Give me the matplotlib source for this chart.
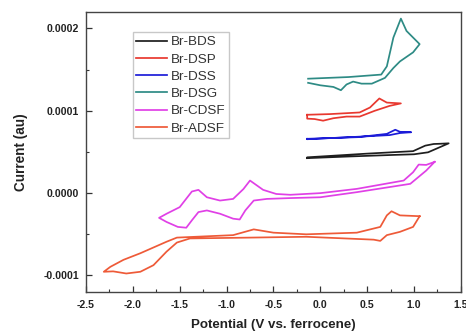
import matplotlib
matplotlib.use("Agg")
import matplotlib.pyplot as plt
from matplotlib.ticker import MultipleLocator, FormatStrFormatter

plt.rcParams['font.family'] = ['Liberation Sans', 'DejaVu Sans']

# ---- data (potential V vs Fc, current in units of 1e-4 au) ----
bds_v = [-0.14, 0.30, 0.80, 1.00, 1.15, 1.37, 1.28, 1.21, 1.12, 0.99, 0.50, -0.14, -0.14]
bds_i = [0.425, 0.445, 0.465, 0.472, 0.496, 0.605, 0.60, 0.597, 0.577, 0.51, 0.48, 0.435, 0.425]

dsp_v = [-0.14, 0.10, 0.42, 0.53, 0.63, 0.71, 0.86, 0.74, 0.58, 0.42, 0.28, 0.14, 0.03, -0.06, -0.14, -0.14]
dsp_i = [0.952, 0.96, 0.98, 1.04, 1.15, 1.10, 1.09, 1.06, 1.00, 0.93, 0.93, 0.91, 0.88, 0.90, 0.905, 0.952]

dss_v = [-0.14, 0.40, 0.71, 0.80, 0.85, 0.97, 0.85, 0.74, 0.49, -0.14, -0.14]
dss_i = [0.66, 0.68, 0.72, 0.77, 0.745, 0.74, 0.73, 0.705, 0.69, 0.655, 0.66]

dsg_v = [-0.13, 0.30, 0.65, 0.71, 0.78, 0.86, 0.92, 1.06, 0.99, 0.85, 0.78, 0.69, 0.55,
         0.44, 0.35, 0.28, 0.22, 0.14, 0.00, -0.13]
dsg_i = [1.39, 1.41, 1.44, 1.54, 1.89, 2.12, 1.97, 1.81, 1.71, 1.60, 1.52, 1.40, 1.33,
         1.33, 1.355, 1.32, 1.25, 1.29, 1.31, 1.34]

cdsf_v = [1.22, 1.13, 1.05, 0.99, 0.89, 0.39, 0.00, -0.32, -0.47, -0.61, -0.75, -0.82, -0.93,
          -1.07, -1.21, -1.30, -1.37, -1.50, -1.64, -1.72, -1.64, -1.52, -1.43, -1.37,
          -1.30, -1.21, -1.07, -0.93, -0.86, -0.80, -0.71, -0.57, -0.32, 0.00, 0.39,
          0.96, 1.13, 1.22]
cdsf_i = [0.38, 0.343, 0.347, 0.254, 0.153, 0.052, 0.00, -0.02, -0.01, 0.04, 0.153, 0.05, -0.07,
          -0.09, -0.05, 0.04, 0.02, -0.17, -0.25, -0.30, -0.35, -0.41, -0.42, -0.33,
          -0.23, -0.21, -0.25, -0.31, -0.32, -0.21, -0.09, -0.07, -0.06, -0.05, 0.012,
          0.113, 0.274, 0.38]

adsf_v = [1.06, 0.85, 0.76, 0.71, 0.64, 0.39, -0.15, -0.50, -0.71, -0.93, -1.53, -1.64,
          -1.92, -2.10, -2.24, -2.31, -2.21, -2.07, -1.92, -1.78, -1.64, -1.53, -1.39,
          -0.75, -0.15, 0.57, 0.64, 0.71, 0.85, 0.99, 1.06]
adsf_i = [-0.28, -0.27, -0.22, -0.27, -0.41, -0.48, -0.50, -0.48, -0.44, -0.51, -0.54, -0.59,
          -0.73, -0.81, -0.895, -0.955, -0.95, -0.976, -0.955, -0.875, -0.71, -0.60, -0.55,
          -0.54, -0.53, -0.565, -0.58, -0.51, -0.47, -0.41, -0.28]

series = [
    ("Br-BDS", bds_v, bds_i, "#1e1e1e"),
    ("Br-DSP", dsp_v, dsp_i, "#e8382f"),
    ("Br-DSS", dss_v, dss_i, "#1c1cd8"),
    ("Br-DSG", dsg_v, dsg_i, "#2e8b85"),
    ("Br-CDSF", cdsf_v, cdsf_i, "#e040e6"),
    ("Br-ADSF", adsf_v, adsf_i, "#ee5a38"),
]

fig = plt.figure(figsize=(4.66, 3.31), dpi=100)
ax = fig.add_axes([0.1845, 0.118, 0.8045, 0.8457])

for name, v, i, c in series:
    ax.plot(v, [x * 1e-4 for x in i], color=c, lw=1.25, label=name)

ax.set_xlim(-2.5, 1.5)
ax.set_ylim(-0.00012, 0.00022)
ax.xaxis.set_major_locator(MultipleLocator(0.5))
ax.xaxis.set_minor_locator(MultipleLocator(0.25))
ax.yaxis.set_major_locator(MultipleLocator(0.0001))
ax.yaxis.set_minor_locator(MultipleLocator(0.00005))
ax.xaxis.set_major_formatter(FormatStrFormatter('%.1f'))
ax.yaxis.set_major_formatter(FormatStrFormatter('%.4f'))
ax.tick_params(which='both', direction='in', top=False, right=False, colors='#333333',
               labelcolor='#222222')
ax.tick_params(which='major', length=4, width=0.9, labelsize=7.6)
ax.tick_params(axis='x', which='major', pad=6)
ax.tick_params(axis='y', which='major', pad=5)
ax.tick_params(which='minor', length=2.5, width=0.8)
for lab in ax.get_xticklabels() + ax.get_yticklabels():
    lab.set_fontweight('bold')
for sp in ax.spines.values():
    sp.set_color('#444444')
    sp.set_linewidth(1.0)

ax.set_xlabel("Potential (V vs. ferrocene)", fontsize=9.6, fontweight='bold', color='#222222', labelpad=6)
ax.set_ylabel("Current (au)", fontsize=9.8, fontweight='bold', color='#222222', labelpad=11)

leg = ax.legend(loc='upper left', bbox_to_anchor=(0.125, 0.927), fontsize=9.7,
                frameon=True, fancybox=False, edgecolor='#bbbbbb', handlelength=2.3,
                handletextpad=0.3, labelspacing=0.36, borderpad=0.25, borderaxespad=0)
leg.get_frame().set_linewidth(1.0)
for t in leg.get_texts():
    t.set_color('#333333')

fig.savefig("out.png", dpi=100)
